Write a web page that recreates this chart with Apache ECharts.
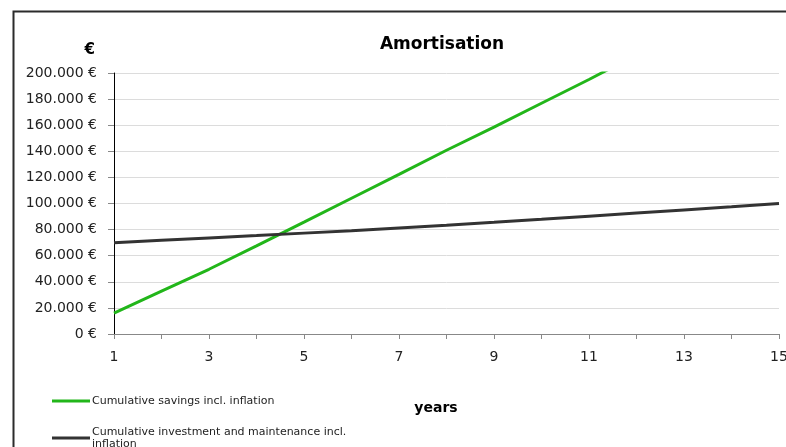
<!DOCTYPE html>
<html><head><meta charset="utf-8">
<script src="https://cdn.jsdelivr.net/npm/echarts@6/dist/echarts.min.js"></script>
<style>html,body{margin:0;padding:0;background:#fff}#c{width:786px;height:447px}</style>
</head><body><div id="c"></div>
<script>
const years = ['1','2','3','4','5','6','7','8','9','10','11','12','13','14','15'];
const savings = [16000, 32800, 49600, 67500, 85700, 104000, 122300, 140800, 158500, 176800, 195000, 214000, 233000, 252000, 271000];
const investment = [70000, 71800, 73600, 75400, 77300, 79200, 81300, 83400, 85600, 87900, 90300, 92700, 95100, 97500, 100000];
const seriesNames = ['Cumulative savings incl. inflation', 'Cumulative investment and maintenance incl. inflation'];
const yTicks = [0, 20000, 40000, 60000, 80000, 100000, 120000, 140000, 160000, 180000, 200000];

const FONT = 'DejaVu Sans, Verdana, sans-serif';
function fmtEuro(v){ return String(v).replace(/\B(?=(\d{3})+(?!\d))/g, '.') + ' €'; }

const legendBase = {
  orient: 'vertical', left: 47, itemWidth: 38, itemHeight: 3, icon: 'rect',
  formatter: function(n){ return n === seriesNames[1] ? 'Cumulative investment and maintenance incl.\ninflation' : n; },
  textStyle: { fontFamily: FONT, fontSize: 11, color: '#222', lineHeight: 12, padding: [0,0,0,-3] }
};

const chart = echarts.init(document.getElementById('c'));
chart.setOption({
  animation: false,
  backgroundColor: '#fff',
  textStyle: { fontFamily: FONT },
  title: {
    text: 'Amortisation', left: 437, top: 31, textAlign: 'center',
    textStyle: { fontFamily: FONT, fontSize: 17, fontWeight: 'bold', color: '#000' }
  },
  graphic: [{
    type: 'rect', left: 11, top: 9, silent: true,
    shape: { x: 0, y: 0, width: 900, height: 500 },
    style: { fill: 'none', stroke: '#2b2b2b', lineWidth: 2 }
  }],
  legend: [
    Object.assign({}, legendBase, { top: 390, data: [seriesNames[0]] }),
    Object.assign({}, legendBase, { top: 421, data: [seriesNames[1]] })
  ],
  grid: { left: 114, right: 7, top: 73, bottom: 113, containLabel: false, outerBoundsMode: 'none' },
  xAxis: {
    type: 'category', data: years, boundaryGap: false,
    name: 'years', nameLocation: 'middle', nameGap: 67,
    nameTextStyle: { fontFamily: FONT, fontSize: 14, fontWeight: 'bold', color: '#000', padding: [0, 21, 0, 0] },
    axisLine: { show: true, lineStyle: { color: '#888', width: 1 } },
    axisTick: { show: true, interval: 0, length: 5, lineStyle: { color: '#888' } },
    axisLabel: { interval: 1, margin: 16, fontFamily: FONT, fontSize: 14, color: '#222' },
    splitLine: { show: false }
  },
  yAxis: {
    type: 'value', min: 0, max: 200000, interval: 20000,
    name: '€', nameLocation: 'end', nameGap: 23,
    nameTextStyle: { fontFamily: FONT, fontSize: 15, fontWeight: 'bold', color: '#000', align: 'right', verticalAlign: 'middle', padding: [0, 19, 0, 0] },
    axisLine: { show: true, lineStyle: { color: '#000', width: 1 } },
    axisTick: { show: true, length: 6, lineStyle: { color: '#888' } },
    axisLabel: { margin: 17, fontFamily: FONT, fontSize: 14, color: '#222',
      formatter: function(v){ return yTicks.indexOf(v) >= 0 ? fmtEuro(v) : ''; } },
    splitLine: { show: true, lineStyle: { color: '#dcdcdc', width: 1 } }
  },
  series: [
    { name: seriesNames[0], type: 'line', data: savings, symbol: 'none', clip: true,
      itemStyle: { color: '#22b61a' }, lineStyle: { color: '#22b61a', width: 3 } },
    { name: seriesNames[1], type: 'line', data: investment, symbol: 'none', clip: true,
      itemStyle: { color: '#333333' }, lineStyle: { color: '#333333', width: 3 } }
  ]
});
</script></body></html>
